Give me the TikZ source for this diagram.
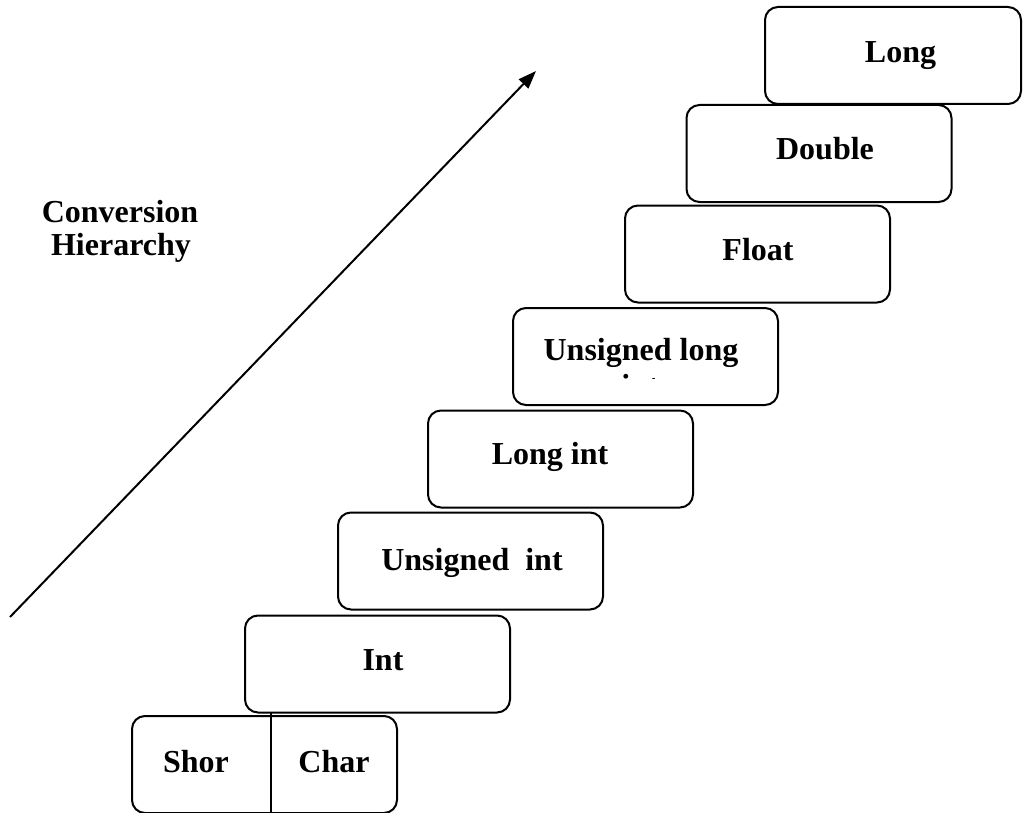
\documentclass[tikz,border=0pt]{standalone}
\usepackage{fontspec}
\setmainfont{Liberation Serif}
\usetikzlibrary{arrows.meta}
\begin{document}
\begin{tikzpicture}[x=0.5pt,y=-0.5pt,
    typebox/.style={draw,line width=1pt,rounded corners=6.5pt,fill=white,
      minimum width=132.5pt,minimum height=48.5pt,inner sep=0pt},
    typename/.style={anchor=base,inner sep=0pt,font=\fontsize{16}{19}\selectfont\bfseries}]
\useasboundingbox (0,0) rectangle (1023,813);
% the steps, from the bottom up
\node[typebox] (shortchar) at (264.5,764.5) {};
\node[typebox] (int) at (377.5,664) {};
\node[typebox] (uint) at (470.5,561) {};
\node[typebox] (longint) at (560.5,459) {};
\node[typebox] (ulong) at (645.5,356.5) {};
\node[typebox] (float) at (757.5,254) {};
\node[typebox] (double) at (819,153.5) {};
\node[typebox,minimum width=128pt] (long) at (893,55.5) {};
% names
\node[typename] (shortT) at (196,772) {Shor};
\node[typename] (charT) at (334,772) {Char};
\node[typename] (intT) at (383,670) {Int};
\node[typename] (uintT) at (472,570) {Unsigned~~int};
\node[typename] (longintT) at (550,464) {Long int};
\node[typename] (ulongT) at (641,360) {Unsigned long};
\begin{scope}
  \clip (513,308) rectangle (778,378.5);
  \node[typename] (ulongintT) at (640,396) {int};
\end{scope}
\node[typename] (floatT) at (758,260) {Float};
\node[typename] (doubleT) at (825,160) {Double};
\node[typename] (longT) at (900.5,63) {Long};
% split of the lowest step
\coordinate (divtop) at (271,713);
\coordinate (divbot) at (271,813);
\draw[line width=1pt] (divtop) -- (divbot);
% arrow and title
\coordinate (arrstart) at (10,617);
\coordinate (arrend) at (536,71);
\draw[line width=1pt,-{Triangle[length=9pt,width=6.5pt]}] (arrstart) -- (arrend);
\node[typename] (convT) at (120,222) {Conversion};
\node[typename] (hierT) at (121,255) {Hierarchy};
\end{tikzpicture}
\end{document}
